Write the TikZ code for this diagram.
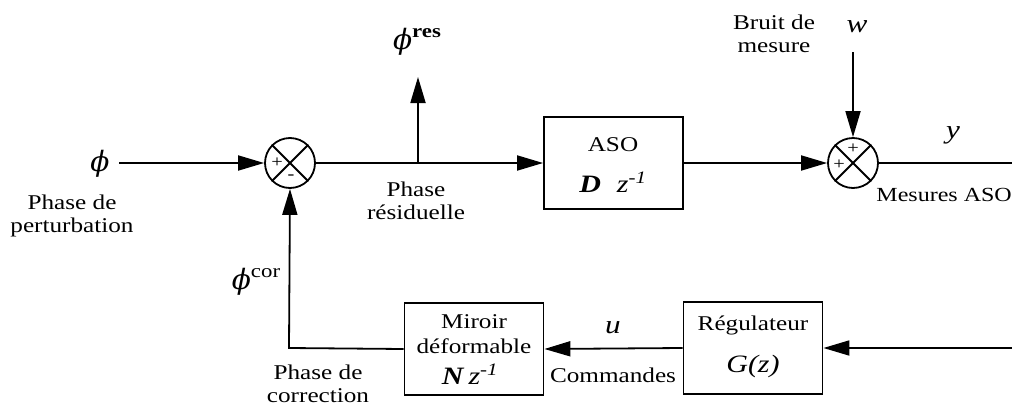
\documentclass[tikz,border=0pt]{standalone}
\usepackage{fontspec}
\setmainfont[FakeStretch=1.2]{Liberation Serif}
\newfontfamily\phifont{DejaVu Serif}
\usetikzlibrary{arrows.meta}
\newcommand{\myphi}{{\fontsize{28}{28}\phifont\itshape ϕ}}
\newcommand{\mysup}[1]{\raisebox{12pt}{\fontsize{19}{19}\selectfont #1}}
\begin{document}
\begin{tikzpicture}[x=1pt,y=-1pt,
  every node/.style={font=\fontsize{21}{23}\selectfont, inner sep=0pt},
  wire/.style={line width=1.8pt},
  arr/.style={wire,-{Triangle[length=26pt,width=15pt]}},
  blk/.style={draw, line width=1.8pt, minimum width=139pt, minimum height=92pt},
  sumj/.style={draw, circle, line width=1.8pt, minimum size=50pt},
  lbl/.style={align=center},
  sgn/.style={font=\fontsize{17}{17}\selectfont},
  var/.style={font=\fontsize{26}{26}\selectfont\itshape}]
\useasboundingbox (0,0) rectangle (1012,407);

% summing junctions
\node[sumj] (s1) at (290,163) {};
\draw[wire] (s1.north west) -- (s1.south east) (s1.north east) -- (s1.south west);
\node[sgn] (s1p) at (277,163) {+};
\node[sgn] (s1m) at (291,177) {-};
\node[sumj] (s2) at (853,163) {};
\draw[wire] (s2.north west) -- (s2.south east) (s2.north east) -- (s2.south west);
\node[sgn] (s2t) at (853,149) {+};
\node[sgn] (s2l) at (839,165) {+};

% blocks
\node[blk] (aso) at (613.5,163) {};
\node (asot) at (613,145) {ASO};
\node (asod) at (613,182) {\fontsize{25}{25}\selectfont\textbf{\textit{D}}\,\, \textit{z}\textsuperscript{\textit{-1}}};
\node[blk] (mir) at (474,349) {};
\node (mir1) at (474,322) {Miroir};
\node (mir2) at (474,346) {déformable};
\node (mir3) at (470,374) {\fontsize{25}{25}\selectfont\textbf{\textit{N}}\,\textit{z}\textsuperscript{\textit{-1}}};
\node[blk] (reg) at (753,348) {};
\node (reg1) at (753,325) {Régulateur};
\node (reg2) at (753,366) {\fontsize{25}{25}\selectfont\textit{G(z)}};

% signal labels
\node (phi) at (100,164) {\myphi};
\node[lbl] (pert) at (72,216) {Phase de\\perturbation};
\node (phires) at (417,42) {\myphi\mysup{\textbf{res}}};
\node[lbl] (resid) at (416,201) {Phase\\résiduelle};
\node[lbl] (bruit) at (774,34) {Bruit de\\mesure};
\node[var] (w) at (857,27) {w};
\node[var] (y) at (953,135) {y};
\node[anchor=east, font=\fontsize{20}{23}\selectfont] (mes) at (1012,195) {Mesures ASO};
\node (phicor) at (256,282) {\myphi\mysup{cor}};
\node[lbl] (corr) at (318,384) {Phase de\\correction};
\node[var] (u) at (613,328) {u};
\node (cmd) at (613,375) {Commandes};

% coordinates
\coordinate (inL) at (119,163);
\coordinate (br) at (418,163);
\coordinate (brtop) at (418,77);
\coordinate (wtop) at (853,52);
\coordinate (outR) at (1012,163);
\coordinate (fbR) at (1012,348);
\coordinate (corner) at (289,348);

% connectors
\draw[arr] (inL) -- (s1.west);
\draw[wire] (s1.east) -- (br);
\draw[arr] (br) -- (aso.west);
\draw[arr] (br) -- (brtop);
\draw[arr] (aso.east) -- (s2.west);
\draw[arr] (wtop) -- (s2.north);
\draw[wire] (s2.east) -- (outR);
\draw[arr] (fbR) -- (reg.east);
\draw[arr] (reg.west) -- (mir.east);
\draw[arr] (mir.west) -- (corner) -- (s1.south);
\end{tikzpicture}
\end{document}
